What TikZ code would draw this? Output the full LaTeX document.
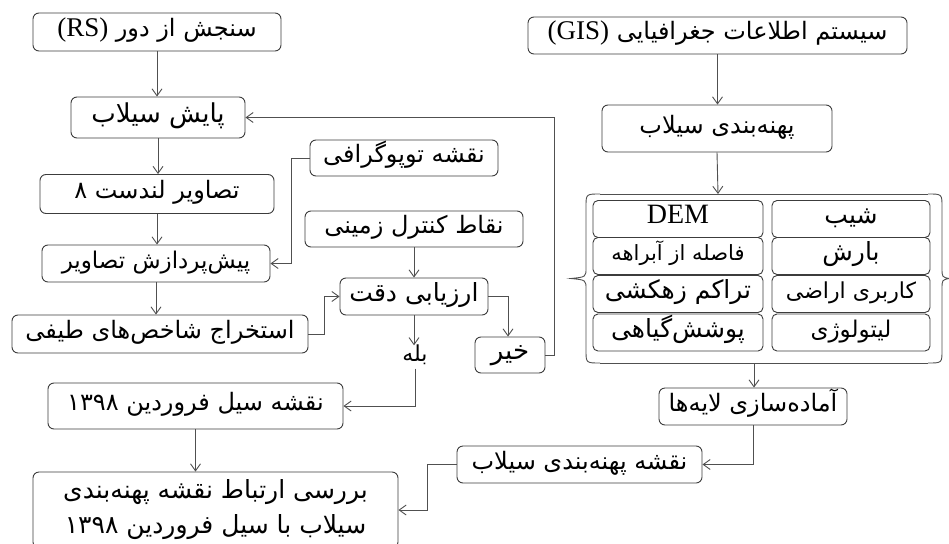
\documentclass[tikz,border=0pt]{standalone}
\usepackage{fontspec}
\setmainfont{Liberation Serif}
\newfontfamily\arabicfont[Script=Arabic]{DejaVu Sans}
\TeXXeTstate=1
\usetikzlibrary{arrows.meta}
\newcommand\fa[1]{{\arabicfont\beginR #1\endR}}
\newcommand\lat[1]{\beginL{\rmfamily\fontsize{27}{30}\selectfont #1}\endL}
\newcommand\fs[1]{\fontsize{#1}{#1}\selectfont}
\definecolor{boxc}{HTML}{3C3C3C}
\definecolor{linec}{HTML}{505050}
\tikzset{
  box/.style={draw=boxc, rounded corners=6pt, line width=0.9pt, inner sep=1pt,
    font=\fs{24}, text=black, text height=15pt, text depth=6pt},
  cell/.style={box, rounded corners=5pt, minimum height=37pt},
  conn/.style={draw=linec, line width=0.9pt, -{Straight Barb[length=7pt,width=10pt]}},
  plain/.style={draw=linec, line width=0.9pt}
}
\begin{document}
\begin{tikzpicture}[x=1pt,y=-1pt]
\fill[white] (0,0) rectangle (949,543);
\useasboundingbox (0,0) rectangle (949,543);
% left column
\node[box, minimum width=248pt, minimum height=38pt] (rs) at (157,32) {\fa{سنجش از دور \lat{(RS)}}};
\node[box, minimum width=174pt, minimum height=41pt, font=\fs{26}] (pay) at (158,117.5) {\fa{پایش سیلاب}};
\node[box, minimum width=234pt, minimum height=39pt] (lan) at (157,194) {\fa{تصاویر لندست ۸}};
\node[box, minimum width=228pt, minimum height=37pt, font=\fs{23}] (pre) at (156,263.5) {\fa{پیش‌پردازش تصاویر}};
\node[box, minimum width=296pt, minimum height=38pt] (ext) at (160,334) {\fa{استخراج شاخص‌های طیفی}};
% middle
\node[box, minimum width=188pt, minimum height=36pt] (topo) at (404,158) {\fa{نقشه توپوگرافی}};
\node[box, minimum width=218pt, minimum height=36pt] (gcp) at (414,229) {\fa{نقاط کنترل زمینی}};
\node[box, minimum width=148pt, minimum height=37pt, font=\fs{25}] (acc) at (414,296.5) {\fa{ارزیابی دقت}};
\node[box, minimum width=70pt, minimum height=36pt, font=\fs{26}] (no) at (510,355) {\fa{خیر}};
\node[font=\fs{22}, inner sep=1pt, text height=15pt, text depth=6pt] (yes) at (415,357) {\fa{بله}};
\node[box, minimum width=295pt, minimum height=46pt] (fmap) at (195.5,406) {\fa{نقشه سیل فروردین ۱۳۹۸}};
\node[box, minimum width=365pt, minimum height=76pt, align=center, text height=, text depth=,
      font=\fontsize{25}{35}\selectfont] (cmp) at (215.5,510)
  {\fa{بررسی ارتباط نقشه پهنه‌بندی}\\\fa{سیلاب با سیل فروردین ۱۳۹۸}};
% right column
\node[box, minimum width=379pt, minimum height=37pt] (gis) at (717.5,35.5) {\fa{سیستم اطلاعات جغرافیایی \lat{(GIS)}}};
\node[box, minimum width=230pt, minimum height=47pt] (zon) at (717,128.5) {\fa{پهنه‌بندی سیلاب}};
\coordinate (gtop) at (718,194);
\coordinate (gbot) at (754,363);
% group frame with braces
\draw[plain] (600,194) -- (928,194);
\draw[plain] (600,363) -- (928,363);
\draw[plain] (600,194) .. controls (586,194) .. (586,207) -- (586,268)
  .. controls (586,277) .. (571,278.5) .. controls (586,280) .. (586,289)
  -- (586,350) .. controls (586,363) .. (600,363);
\draw[plain] (928,194) .. controls (942,194) .. (942,207) -- (942,268)
  .. controls (942,277) .. (949,278.5) .. controls (942,280) .. (942,289)
  -- (942,350) .. controls (942,363) .. (928,363);
% cells
\node[cell, minimum width=170pt, font=\fontsize{28}{30}\selectfont] (c11) at (678,219) {DEM};
\node[cell, minimum width=158pt, font=\fs{25}] (c12) at (851,219) {\fa{شیب}};
\node[cell, minimum width=170pt, font=\fs{21}] (c21) at (678,256) {\fa{فاصله از آبراهه}};
\node[cell, minimum width=158pt, font=\fs{25}] (c22) at (851,256) {\fa{بارش}};
\node[cell, minimum width=170pt, font=\fs{25}] (c31) at (678,294) {\fa{تراکم زهکشی}};
\node[cell, minimum width=158pt, font=\fs{22}] (c32) at (851,294) {\fa{کاربری اراضی}};
\node[cell, minimum width=170pt, font=\fs{25}] (c41) at (678,332.5) {\fa{پوشش‌گیاهی}};
\node[cell, minimum width=158pt, font=\fs{23}] (c42) at (851,332.5) {\fa{لیتولوژی}};
\node[box, minimum width=188pt, minimum height=37pt] (prep) at (753,406.5) {\fa{آماده‌سازی لایه‌ها}};
\node[box, minimum width=245pt, minimum height=37pt] (zmap) at (579.5,464.5) {\fa{نقشه پهنه‌بندی سیلاب}};
% connectors
\draw[conn] (rs.south) -- (rs.south |- pay.north);
\draw[conn] (pay.south) -- (pay.south |- lan.north);
\draw[conn] (lan.south) -- (lan.south |- pre.north);
\draw[conn] (pre.south) -- (pre.south |- ext.north);
\draw[conn] (topo.west) -- ++(-18,0) |- (pre.east);
\draw[conn] (ext.east) -- ++(16,0) |- (acc.west);
\draw[conn] (gcp.south) -- (gcp.south |- acc.north);
\draw[conn] (acc.south) -- (acc.south |- yes.north);
\draw[conn] (yes.south) |- (fmap.east);
\draw[conn] (acc.east) -| ([xshift=-2pt]no.north);
\draw[conn] (no.east) -- ++(9,0) |- (pay.east);
\draw[conn] (fmap.south) -- (fmap.south |- cmp.north);
\draw[conn] (gis.south) -- (gis.south |- zon.north);
\draw[conn] (zon.south) -- (gtop);
\draw[conn] (gbot) -- (gbot |- prep.north);
\draw[conn] (prep.south) |- (zmap.east);
\draw[conn] (zmap.west) -- ++(-29,0) |- (cmp.east);
\end{tikzpicture}
\end{document}
